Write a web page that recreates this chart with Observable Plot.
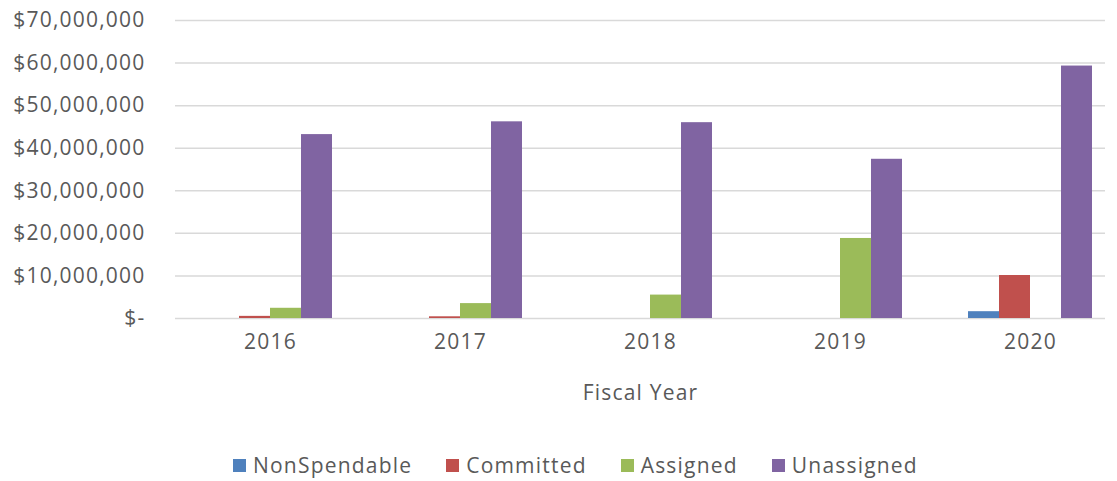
<!DOCTYPE html>
<html>
<head>
<meta charset="utf-8">
<script src="https://cdn.jsdelivr.net/npm/d3@7"></script>
<script src="https://cdn.jsdelivr.net/npm/@observablehq/plot@0.6"></script>
<style>
  html, body { margin: 0; padding: 0; background: #fff; }
  body { width: 1117px; height: 481px; overflow: hidden; font-family: "Open Sans", sans-serif; color: #595959; }
  #legend { height: 50px; display: flex; align-items: center; padding-left: 233px; font-size: 21px; letter-spacing: 1.2px; }
  .item { display: flex; align-items: center; margin-right: 34px; }
  .sw { width: 13px; height: 13px; margin-right: 7px; }
</style>
</head>
<body>
<div id="chart"></div>
<div id="legend"></div>
<script>
const years = ["2016", "2017", "2018", "2019", "2020"];
const seriesNames = ["NonSpendable", "Committed", "Assigned", "Unassigned"];
const seriesColors = ["#4F81BD", "#C0504D", "#9BBB59", "#8064A2"];
const nonSpendable = [0, 0, 0, 0, 1600000];
const committed = [500000, 400000, 0, 0, 10100000];
const assigned = [2400000, 3500000, 5500000, 18800000, 0];
const unassigned = [43200000, 46200000, 46000000, 37400000, 59300000];
const yTicks = [0, 10000000, 20000000, 30000000, 40000000, 50000000, 60000000, 70000000];
const xTitle = "Fiscal Year";

const seriesValues = [nonSpendable, committed, assigned, unassigned];
const fmt = d3.format(",");
const tickFormat = v => v === 0 ? "$-" : "$" + fmt(v);

const step = 190, barW = 31, groupOffset = (step - 4 * barW) / 2;
const barMarks = seriesValues.map((vals, i) => {
  const rows = years.map((y, j) => ({year: y, value: vals[j]})).filter(d => d.value > 0);
  return Plot.barY(rows, {
    x: "year", y: "value", fill: seriesColors[i],
    insetLeft: groupOffset + barW * i,
    insetRight: step - (groupOffset + barW * (i + 1))
  });
});

const chart = Plot.plot({
  width: 1117,
  height: 440,
  marginLeft: 175,
  marginRight: 12,
  marginTop: 20,
  marginBottom: 122,
  style: {fontFamily: "Open Sans, sans-serif", fontSize: "21px", color: "#595959", letterSpacing: "1.2px", background: "#fff"},
  x: {type: "band", domain: years, range: [175, 1125], padding: 0},
  y: {domain: [0, 70000000]},
  marks: [
    Plot.ruleY(yTicks, {stroke: "#D9D9D9", strokeWidth: 1.5}),
    ...barMarks,
    Plot.axisY({ticks: yTicks, tickFormat, tickSize: 0, tickPadding: 30, label: null}),
    Plot.axisX({tickSize: 0, tickPadding: 16, label: null}),
    Plot.text([xTitle], {text: d => d, frameAnchor: "bottom", dy: 81, fill: "#595959"})
  ]
});
document.getElementById("chart").appendChild(chart);

const legend = document.getElementById("legend");
seriesNames.forEach((name, i) => {
  const item = document.createElement("div");
  item.className = "item";
  const sw = document.createElement("div");
  sw.className = "sw";
  sw.style.background = seriesColors[i];
  const label = document.createElement("span");
  label.textContent = name;
  item.appendChild(sw);
  item.appendChild(label);
  legend.appendChild(item);
});
</script>
</body>
</html>
